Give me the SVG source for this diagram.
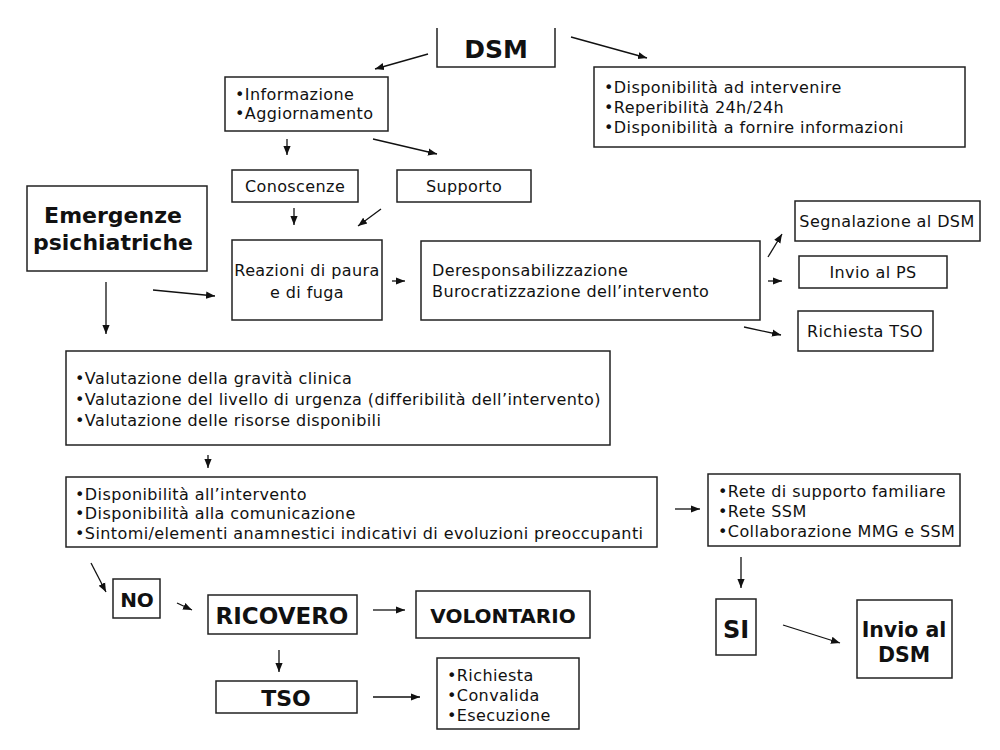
<svg xmlns="http://www.w3.org/2000/svg" width="1000" height="750" viewBox="0 0 1000 750">
<defs>
<marker id="ah" viewBox="0 0 10 10" refX="10" refY="5" markerWidth="9" markerHeight="9" markerUnits="userSpaceOnUse" orient="auto">
<path d="M0,1 L10,5 L0,9 z" fill="#111"/>
</marker>
<style>
.box{fill:#fff;stroke:#222;stroke-width:1.5}
.t{font-family:"DejaVu Sans",Verdana,sans-serif;font-size:16px;letter-spacing:0.4px;fill:#111}
.b{font-family:"DejaVu Sans",Verdana,sans-serif;font-weight:bold;fill:#111}
.c{text-anchor:middle}
.conn line{stroke:#111;stroke-width:1.3;marker-end:url(#ah)}
</style>
</defs>
<rect width="1000" height="750" fill="#fff"/>
<g id="dsm"><path d="M437,28 V67 H555 V28" fill="#fff" stroke="#222" stroke-width="1.5"/><text class="b c" x="496" y="58" font-size="25">DSM</text></g>
<g id="info"><rect class="box" x="225" y="77" width="163" height="54"/><text class="t" x="235" y="100">•Informazione</text><text class="t" x="235" y="119">•Aggiornamento</text></g>
<g id="disp-dsm"><rect class="box" x="594" y="67" width="371" height="80"/><text class="t" x="604" y="93">•Disponibilità ad intervenire</text><text class="t" x="604" y="113">•Reperibilità 24h/24h</text><text class="t" x="604" y="133">•Disponibilità a fornire informazioni</text></g>
<g id="conoscenze"><rect class="box" x="232" y="170" width="126" height="32"/><text class="t c" x="295" y="192">Conoscenze</text></g>
<g id="supporto"><rect class="box" x="397" y="170" width="134" height="32"/><text class="t c" x="464" y="192">Supporto</text></g>
<g id="emergenze"><rect class="box" x="27" y="186" width="180" height="85"/><text class="b c" x="113" y="223" font-size="22">Emergenze</text><text class="b c" x="113" y="250" font-size="22">psichiatriche</text></g>
<g id="reazioni"><rect class="box" x="232" y="240" width="150" height="80"/><text class="t c" x="307" y="276">Reazioni di paura</text><text class="t c" x="307" y="298">e di fuga</text></g>
<g id="deresp"><rect class="box" x="421" y="241" width="339" height="79"/><text class="t" x="432" y="276">Deresponsabilizzazione</text><text class="t" x="432" y="297">Burocratizzazione dell’intervento</text></g>
<g id="segnalazione"><rect class="box" x="795" y="201" width="185" height="40"/><text class="t c" x="887" y="227">Segnalazione al DSM</text></g>
<g id="invio-ps"><rect class="box" x="799" y="256" width="148" height="32"/><text class="t c" x="873" y="278">Invio al PS</text></g>
<g id="richiesta-tso"><rect class="box" x="798" y="311" width="135" height="40"/><text class="t c" x="865" y="337">Richiesta TSO</text></g>
<g id="valutazione"><rect class="box" x="66" y="351" width="544" height="94"/><text class="t" x="75" y="384">•Valutazione della gravità clinica</text><text class="t" x="75" y="405">•Valutazione del livello di urgenza (differibilità dell’intervento)</text><text class="t" x="75" y="426">•Valutazione delle risorse disponibili</text></g>
<g id="disponibilita"><rect class="box" x="66" y="477" width="591" height="70"/><text class="t" x="75" y="500">•Disponibilità all’intervento</text><text class="t" x="75" y="519">•Disponibilità alla comunicazione</text><text class="t" x="75" y="539">•Sintomi/elementi anamnestici indicativi di evoluzioni preoccupanti</text></g>
<g id="rete"><rect class="box" x="708" y="474" width="252" height="72"/><text class="t" x="718" y="497">•Rete di supporto familiare</text><text class="t" x="718" y="517">•Rete SSM</text><text class="t" x="718" y="537">•Collaborazione MMG e SSM</text></g>
<g id="si"><rect class="box" x="716" y="599" width="40" height="56"/><text class="b c" x="736" y="638" font-size="24">SI</text></g>
<g id="invio-dsm"><rect class="box" x="857" y="600" width="95" height="78"/><text class="b c" x="904" y="637" font-size="20.5">Invio al</text><text class="b c" x="904" y="662" font-size="20.5">DSM</text></g>
<g id="no"><rect class="box" x="113" y="579" width="47" height="39"/><text class="b c" x="137" y="607" font-size="20">NO</text></g>
<g id="ricovero"><rect class="box" x="208" y="595" width="149" height="39"/><text class="b c" x="282" y="624" font-size="23">RICOVERO</text></g>
<g id="volontario"><rect class="box" x="416" y="591" width="174" height="47"/><text class="b c" x="503" y="623" font-size="20">VOLONTARIO</text></g>
<g id="tso"><rect class="box" x="216" y="681" width="141" height="32"/><text class="b c" x="286" y="706" font-size="22">TSO</text></g>
<g id="tso-fasi"><rect class="box" x="437" y="658" width="142" height="71"/><text class="t" x="447" y="681">•Richiesta</text><text class="t" x="447" y="701">•Convalida</text><text class="t" x="447" y="721">•Esecuzione</text></g>
<g id="connectors" class="conn">
<line x1="428" y1="54" x2="375" y2="69"/>
<line x1="571" y1="37" x2="647" y2="58"/>
<line x1="287" y1="139" x2="287" y2="155"/>
<line x1="373" y1="139" x2="437" y2="154"/>
<line x1="294" y1="208" x2="294" y2="225"/>
<line x1="381" y1="209" x2="358" y2="226"/>
<line x1="153" y1="290" x2="215" y2="296"/>
<line x1="106" y1="282" x2="106" y2="334"/>
<line x1="392" y1="281" x2="405" y2="281"/>
<line x1="768" y1="257" x2="782" y2="234"/>
<line x1="768" y1="281" x2="782" y2="281"/>
<line x1="744" y1="327" x2="781" y2="335"/>
<line x1="208" y1="455" x2="208" y2="468"/>
<line x1="675" y1="509" x2="700" y2="509"/>
<line x1="91" y1="563" x2="106" y2="592"/>
<line x1="177" y1="603" x2="192" y2="610"/>
<line x1="373" y1="610" x2="405" y2="610"/>
<line x1="279" y1="650" x2="279" y2="672"/>
<line x1="373" y1="697" x2="420" y2="697"/>
<line x1="741" y1="557" x2="741" y2="588"/>
<line x1="783" y1="625" x2="840" y2="643"/>
</g>
</svg>
